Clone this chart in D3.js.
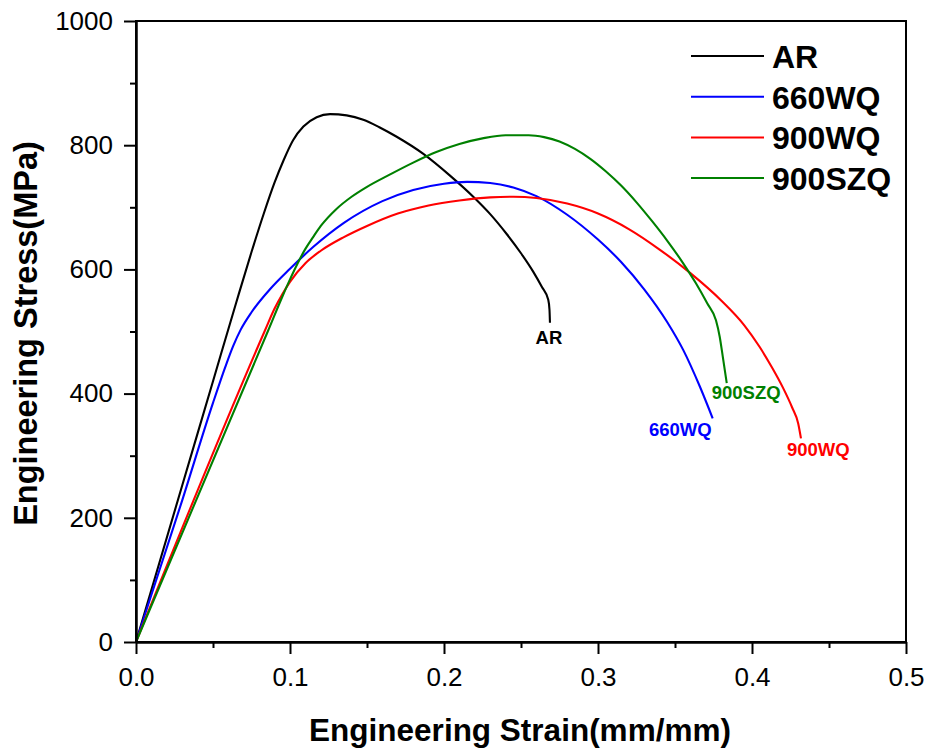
<!DOCTYPE html>
<html>
<head>
<meta charset="utf-8">
<script src="https://cdn.jsdelivr.net/npm/d3@7"></script>
<style>
  html, body { margin: 0; padding: 0; background: #fff; }
  svg { display: block; font-family: Arial, "Liberation Sans", sans-serif; }
</style>
</head>
<body>
<svg id="chart" width="928" height="753"></svg>
<script>
// ---- data ----
const seriesNames = ["AR", "660WQ", "900WQ", "900SZQ"];

const arStrain = [0, 0.03, 0.05, 0.065, 0.075, 0.083, 0.09, 0.0957, 0.102, 0.1087, 0.1173, 0.126, 0.1368, 0.1476, 0.158, 0.169, 0.1866, 0.2039, 0.219, 0.23, 0.2407, 0.25, 0.258, 0.2635, 0.2677, 0.2685, 0.2688];
const arStress = [0, 252, 420, 546, 628, 690, 740, 775, 808, 830, 845, 850, 848, 841, 829, 814, 786, 751, 717, 689, 657, 626, 596, 572, 551, 535, 514];

const wq660Strain = [0, 0.03, 0.05, 0.058, 0.063, 0.068, 0.075, 0.087, 0.1, 0.115, 0.135, 0.16, 0.18, 0.2, 0.215, 0.23, 0.245, 0.26, 0.28, 0.3, 0.315, 0.33, 0.345, 0.3554, 0.3662, 0.3745];
const wq660Stress = [0, 228, 385, 443, 476, 503, 531, 568, 601, 636, 675, 710, 728, 738, 741, 739, 732, 718, 688, 648, 612, 568, 515, 470, 411, 360];

const wq900Strain = [0, 0.0838, 0.09, 0.095, 0.1, 0.11, 0.12, 0.135, 0.15, 0.17, 0.19, 0.21, 0.23, 0.245, 0.26, 0.28, 0.3, 0.32, 0.34, 0.36, 0.38, 0.395, 0.405, 0.413, 0.42, 0.426, 0.43, 0.4318];
const wq900Stress = [0, 502, 537, 560, 580, 610, 630, 652, 670, 690, 703, 711, 716, 717, 715, 706, 690, 665, 632, 594, 550, 510, 475, 442, 410, 378, 352, 328];

const szq900Strain = [0, 0.0859, 0.095, 0.1, 0.105, 0.11, 0.115, 0.12, 0.13, 0.14, 0.15, 0.165, 0.18, 0.195, 0.21, 0.225, 0.24, 0.255, 0.265, 0.275, 0.285, 0.295, 0.305, 0.315, 0.325, 0.335, 0.345, 0.355, 0.3635, 0.371, 0.3766, 0.379, 0.381, 0.3836];
const szq900Stress = [0, 502, 556, 584, 610, 633, 652, 670, 697, 717, 733, 753, 772, 789, 802, 811, 816, 816, 813, 806, 794, 778, 758, 735, 708, 678, 646, 611, 578, 545, 518, 492, 460, 417];

const xTicks = [0, 0.1, 0.2, 0.3, 0.4, 0.5];
const xMinorTicks = [0.05, 0.15, 0.25, 0.35, 0.45];
const yTicks = [0, 200, 400, 600, 800, 1000];
const yMinorTicks = [100, 300, 500, 700, 900];

const xTitle = "Engineering Strain(mm/mm)";
const yTitle = "Engineering Stress(MPa)";

// ---- styling / layout ----
const colors = ["#000000", "#0000ff", "#ff0000", "#008000"];
const margin = { left: 136, right: 22, top: 21, bottom: 111 };
const W = 928, H = 753;
const iw = W - margin.left - margin.right;
const ih = H - margin.top - margin.bottom;

const series = [
  { name: seriesNames[0], x: arStrain, y: arStress },
  { name: seriesNames[1], x: wq660Strain, y: wq660Stress },
  { name: seriesNames[2], x: wq900Strain, y: wq900Stress },
  { name: seriesNames[3], x: szq900Strain, y: szq900Stress }
].map((s, i) => ({ ...s, color: colors[i], pts: s.x.map((v, k) => [v, s.y[k]]) }));

// end-label offsets in pixels relative to the last point
const labelStyle = [
  { anchor: "middle", dx: -1, dy: 21 },
  { anchor: "end", dx: -1, dy: 18 },
  { anchor: "start", dx: -14, dy: 18 },
  { anchor: "start", dx: -15, dy: 16 }
];

const svg = d3.select("#chart");
const g = svg.append("g").attr("transform", `translate(${margin.left},${margin.top})`);

const x = d3.scaleLinear().domain([0, 0.5]).range([0, iw]);
const y = d3.scaleLinear().domain([0, 1000]).range([ih, 0]);

// curves
const line = d3.line().x(d => x(d[0])).y(d => y(d[1])).curve(d3.curveMonotoneX);
g.selectAll("path.curve").data(series).join("path")
  .attr("class", "curve")
  .attr("d", d => line(d.pts))
  .attr("fill", "none")
  .attr("stroke", d => d.color)
  .attr("stroke-width", 2.1)
  .attr("stroke-linejoin", "round");

// frame
g.append("rect").attr("x", 0).attr("y", 0).attr("width", iw).attr("height", ih)
  .attr("fill", "none").attr("stroke", "#000").attr("stroke-width", 2);

// axes
const xAxis = d3.axisBottom(x).tickValues(xTicks).tickFormat(d3.format(".1f"))
  .tickSize(12).tickSizeOuter(0).tickPadding(14);
const gx = g.append("g").attr("transform", `translate(0,${ih})`).call(xAxis);
const xMinor = d3.axisBottom(x).tickValues(xMinorTicks).tickFormat("").tickSize(6).tickSizeOuter(0);
const gxm = g.append("g").attr("transform", `translate(0,${ih})`).call(xMinor);

const yAxis = d3.axisLeft(y).tickValues(yTicks).tickFormat(d3.format("d"))
  .tickSize(12).tickSizeOuter(0).tickPadding(11);
const gy = g.append("g").call(yAxis);
const yMinor = d3.axisLeft(y).tickValues(yMinorTicks).tickFormat("").tickSize(6).tickSizeOuter(0);
const gym = g.append("g").call(yMinor);

[gx, gxm, gy, gym].forEach(a => {
  a.select(".domain").attr("stroke", "#000").attr("stroke-width", 2);
  a.selectAll(".tick line").attr("stroke", "#000").attr("stroke-width", 2);
  a.selectAll(".tick text").attr("font-size", 26).attr("fill", "#000")
    .attr("font-family", "Arial, 'Liberation Sans', sans-serif");
});

// axis titles
svg.append("text")
  .attr("x", 520).attr("y", 741)
  .attr("text-anchor", "middle")
  .attr("font-size", 31.5).attr("font-weight", "bold")
  .text(xTitle);
svg.append("text")
  .attr("transform", `translate(37,${margin.top + ih / 2 + 2}) rotate(-90)`)
  .attr("text-anchor", "middle")
  .attr("font-size", 32.5).attr("font-weight", "bold")
  .text(yTitle);

// end labels
g.selectAll("text.endlabel").data(series).join("text")
  .attr("class", "endlabel")
  .attr("x", (d, i) => x(d.pts[d.pts.length - 1][0]) + labelStyle[i].dx)
  .attr("y", (d, i) => y(d.pts[d.pts.length - 1][1]) + labelStyle[i].dy)
  .attr("text-anchor", (d, i) => labelStyle[i].anchor)
  .attr("font-size", 18.5).attr("font-weight", "bold")
  .attr("fill", d => d.color)
  .text(d => d.name);

// legend
const legend = svg.append("g").attr("transform", "translate(691,56)");
const rows = legend.selectAll("g").data(series).join("g")
  .attr("transform", (d, i) => `translate(0,${i * 40.7})`);
rows.append("line").attr("x1", 0).attr("x2", 73).attr("y1", 0).attr("y2", 0)
  .attr("stroke", d => d.color).attr("stroke-width", 2);
rows.append("text").attr("x", 81).attr("y", 12)
  .attr("font-size", 32).attr("font-weight", "bold")
  .text(d => d.name);
</script>
</body>
</html>
